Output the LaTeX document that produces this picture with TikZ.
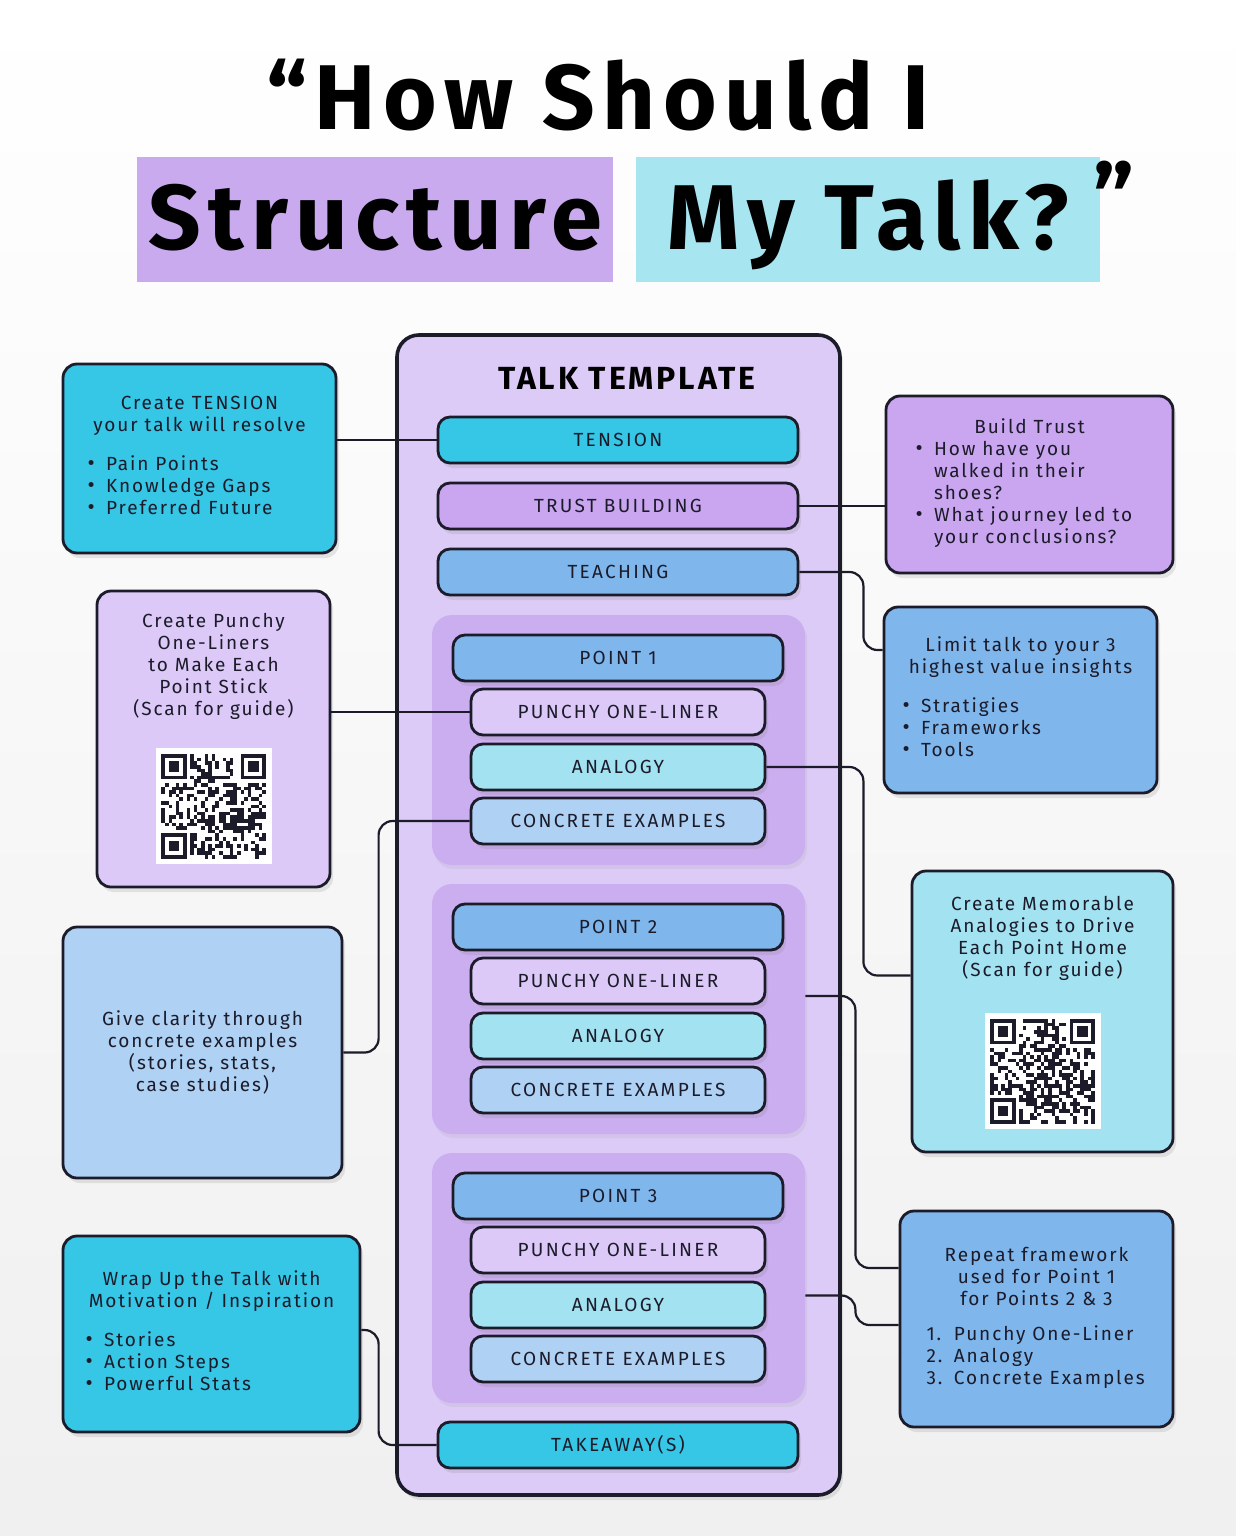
\documentclass[tikz,border=0pt]{standalone}
\usepackage{fontspec}
\setmainfont{Fira Sans}
\usetikzlibrary{shadows}

\definecolor{ink}{HTML}{1B1B2A}
\definecolor{cyanbar}{HTML}{36C6E6}
\definecolor{trustbar}{HTML}{C9A6EF}
\definecolor{bluebar}{HTML}{7FB6EC}
\definecolor{lavbar}{HTML}{DCC9F7}
\definecolor{aquabar}{HTML}{A3E3F1}
\definecolor{skybar}{HTML}{AFD1F4}
\definecolor{shell}{HTML}{DCCBF6}
\definecolor{pointbg}{HTML}{CBAEF0}
\definecolor{hlpurple}{HTML}{C9AAEF}
\definecolor{hlcyan}{HTML}{A7E6F0}

\newcommand\bul{\raisebox{0pt}[0pt][0pt]{\fontsize{11}{11}\selectfont\textbullet}}
\newcommand\blist[2]{\makebox[#1][l]{\begin{tabular}{@{}l@{\hspace{.6em}}l@{}}#2\end{tabular}}}
\newcommand\qrfinder[2]{%
  \fill[white] (#1-3.6,#2-3.6) rectangle ++(32.4,32.4);
  \fill[ink] (#1,#2) rectangle ++(25.2,25.2);
  \fill[white] (#1+3.6,#2+3.6) rectangle ++(18,18);
  \fill[ink] (#1+7.2,#2+7.2) rectangle ++(10.8,10.8);}
\newcommand\qrpatch[2]{%
  \begin{scope}[shift={(#1)}]
    \fill[white] (-58,-58) rectangle (58,58);
    \pgfmathsetseed{#2}
    \foreach \i in {0,...,28}{\foreach \j in {0,...,28}{
      \pgfmathtruncatemacro\bit{rnd>0.52}
      \ifnum\bit=1 \fill[ink] (-52.2+\i*3.6,-52.2+\j*3.6) rectangle ++(3.6,3.6);\fi}}
    \qrfinder{-52.2}{-52.2}
    \qrfinder{27}{-52.2}
    \qrfinder{-52.2}{27}
  \end{scope}}

\tikzstyle{card}=[draw=ink,line width=1.4pt,inner sep=0pt,text=ink,drop shadow={opacity=.18,shadow xshift=1.5pt,shadow yshift=-2.5pt}]
\tikzstyle{bar}=[card,rounded corners=6pt,minimum height=23pt,text height=6.6pt,text depth=0pt,font=\fontsize{9.5}{11}\selectfont\addfontfeatures{LetterSpace=12}]
\tikzstyle{note}=[card,rounded corners=7pt,align=center,font=\fontsize{9.5}{11}\selectfont\addfontfeatures{LetterSpace=10}]
\tikzstyle{pointgroup}=[fill=pointbg,rounded corners=10pt,inner sep=0pt,minimum width=186.5pt,minimum height=125pt,drop shadow={opacity=.1,shadow xshift=1pt,shadow yshift=-2pt}]
\tikzstyle{hl}=[inner sep=0pt,text=black,minimum height=62.5pt,font=\fontsize{46}{50}\selectfont\bfseries\addfontfeatures{LetterSpace=8},text height=35pt,text depth=5pt]
\tikzstyle{link}=[draw=ink,line width=1.1pt,rounded corners=7pt]

\begin{document}
\begin{tikzpicture}[x=0.5pt,y=-0.5pt]
  \shade[top color=white,bottom color=gray!12] (0,0) rectangle (1236,1536);
  \useasboundingbox (0,0) rectangle (1236,1536);

  % title
  \node[font=\fontsize{46}{50}\selectfont\bfseries\addfontfeatures{LetterSpace=8},anchor=base,inner sep=0pt] (title) at (598,130) {“How Should I};
  \node[hl,fill=hlpurple,minimum width=238pt] (structure) at (375,219.5) {Structure};
  \node[hl,fill=hlcyan,minimum width=232pt] (mytalk) at (868,219.5) {My Talk?};
  \node[font=\fontsize{46}{50}\selectfont\bfseries,inner sep=0pt] (endquote) at (1114,196) {”};

  % template column
  \node[card,fill=shell,rounded corners=11pt,line width=1.8pt,minimum width=221.5pt,minimum height=580pt] (template) at (618.5,915) {};
  \node[font=\fontsize{16}{18}\selectfont\bfseries\addfontfeatures{LetterSpace=9},text=black] (ttitle) at (627,378) {TALK TEMPLATE};
  \node[bar,fill=cyanbar,minimum width=180pt] (tension) at (618,440) {TENSION};
  \node[bar,fill=trustbar,minimum width=180pt] (trust) at (618,506) {TRUST BUILDING};
  \node[bar,fill=bluebar,minimum width=180pt] (teaching) at (618,572) {TEACHING};
  \foreach \n/\y in {1/615,2/884,3/1153}{
    \node[pointgroup] (grp\n) at (618.5,\y+125) {};
    \node[bar,fill=bluebar,minimum width=165pt] (point\n) at (618,\y+43) {POINT \n};
    \node[bar,fill=lavbar,minimum width=147pt] (punchy\n) at (618,\y+97) {PUNCHY ONE-LINER};
    \node[bar,fill=aquabar,minimum width=147pt] (analogy\n) at (618,\y+152) {ANALOGY};
    \node[bar,fill=skybar,minimum width=147pt] (concrete\n) at (618,\y+206) {CONCRETE EXAMPLES};
  }
  \node[bar,fill=cyanbar,minimum width=180pt] (takeaway) at (618,1445) {TAKEAWAY(S)};

  % notes on the left
  \node[note,fill=cyanbar,minimum width=136.5pt,minimum height=94.5pt] (tensionnote) at (199.5,458.5) {Create TENSION\\your talk will resolve\\[9pt]
    \blist{112pt}{\bul & Pain Points\\ \bul & Knowledge Gaps\\ \bul & Preferred Future}};
  \node[note,fill=lavbar,minimum width=116.5pt,minimum height=148pt] (punchnote) at (213.5,739) {Create Punchy\\One-Liners\\to Make Each\\Point Stick\\(Scan for guide)\\[14pt]\rule{0pt}{58pt}};
  \node[note,fill=skybar,minimum width=139.5pt,minimum height=125.5pt] (claritynote) at (202.5,1052.5) {Give clarity through\\concrete examples\\(stories, stats,\\case studies)};
  \node[note,fill=cyanbar,minimum width=148.5pt,minimum height=98pt] (wrapnote) at (211.5,1334) {Wrap Up the Talk with\\Motivation / Inspiration\\[9pt]
    \blist{126pt}{\bul & Stories\\ \bul & Action Steps\\ \bul & Powerful Stats}};

  % notes on the right
  \node[note,fill=trustbar,minimum width=143.5pt,minimum height=88.5pt] (trustnote) at (1029.5,484.5) {Build Trust\\[2pt]
    \blist{114pt}{\bul & How have you\\ & walked in their\\ & shoes?\\ \bul & What journey led to\\ & your conclusions?}};
  \node[note,fill=bluebar,minimum width=136.5pt,minimum height=93pt] (limitnote) at (1020.5,700) {Limit talk to your 3\\highest value insights\\[9pt]
    \blist{118pt}{\bul & Stratigies\\ \bul & Frameworks\\ \bul & Tools}};
  \node[note,fill=aquabar,minimum width=130.5pt,minimum height=140.5pt] (memnote) at (1042.5,1011.5) {Create Memorable\\Analogies to Drive\\Each Point Home\\(Scan for guide)\\[14pt]\rule{0pt}{58pt}};
  \node[note,fill=bluebar,minimum width=136.5pt,minimum height=108pt] (repeatnote) at (1036.5,1319) {Repeat framework\\used for Point 1\\for Points 2 \& 3\\[9pt]
    \blist{110pt}{1. & Punchy One-Liner\\ 2. & Analogy\\ 3. & Concrete Examples}};

  % qr codes
  \qrpatch{[yshift=41pt]punchnote.south}{11}
  \qrpatch{[yshift=41pt]memnote.south}{23}

  % connectors
  \draw[link] (tension.west) -- (tension.west -| tensionnote.east);
  \draw[link] (trust.east) -- (trust.east -| trustnote.west);
  \draw[link] (teaching.east) -- ++(64,0) |- ([yshift=25pt]limitnote.west);
  \draw[link] (punchy1.west) -- (punchy1.west -| punchnote.east);
  \draw[link] (analogy1.east) -- ++(97,0) |- ([yshift=18pt]memnote.west);
  \draw[link] (concrete1.west) -- ++(-91,0) |- (claritynote.east);
  \draw[link] ([yshift=6.5pt]grp2.east) -- ++(50,0) |- ([yshift=25.5pt]repeatnote.west);
  \draw[link] ([yshift=-8.75pt]grp3.east) -- ++(50,0) |- ([yshift=-3pt]repeatnote.west);
  \draw[link] (takeaway.west) -- ++(-58,0) |- ([yshift=2pt]wrapnote.east);
\end{tikzpicture}
\end{document}
